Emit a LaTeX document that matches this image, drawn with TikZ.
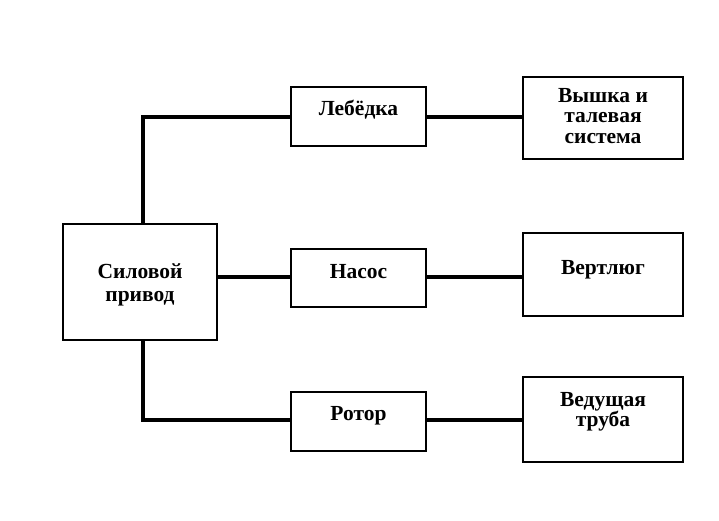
\documentclass[tikz,border=0pt]{standalone}
\usepackage{fontspec}
\setmainfont{Liberation Serif}
\usetikzlibrary{calc}
\begin{document}
\begin{tikzpicture}[x=1pt,y=1pt,
  box/.style={draw,line width=2.8pt,inner sep=0pt},
  lbl/.style={font=\fontsize{21.5}{20.5}\selectfont\bfseries,align=center,inner sep=0pt},
  conn/.style={line width=3.8pt}]
\useasboundingbox (0,0) rectangle (719,520);
% boxes (y = 520 - pixel y)
\node[box,minimum width=154pt,minimum height=116pt] (S) at (140,238) {};
\node[box,minimum width=135pt,minimum height=59pt] (L) at (358.5,403.5) {};
\node[box,minimum width=135pt,minimum height=58pt] (N) at (358.5,242) {};
\node[box,minimum width=135pt,minimum height=59pt] (R) at (358.5,98.5) {};
\node[box,minimum width=160pt,minimum height=82pt] (V) at (603,402) {};
\node[box,minimum width=160pt,minimum height=83pt] (T) at (603,245.5) {};
\node[box,minimum width=160pt,minimum height=85pt] (D) at (603,100.5) {};
% labels
\node[lbl] (St) at (140,235) {Силовой\\[2.5pt]привод};
\node[lbl] (Lt) at (358.5,410) {Лебёдка};
\node[lbl] (Nt) at (358.5,248) {Насос};
\node[lbl] (Rt) at (358.5,104) {Ротор};
\node[lbl] (Vt) at (603,404) {Вышка и\\талевая\\система};
\node[lbl] (Tt) at (603,250) {Вертлюг};
\node[lbl] (Dt) at (603,108) {Ведущая\\труба};
% connectors
\coordinate (ct) at (143,403);
\coordinate (cb) at (143,100);
\draw[conn] (S.north -| ct) -- (ct) -- (ct -| L.west);
\draw[conn] (S.south -| cb) -- (cb) -- (cb -| R.west);
\draw[conn] (S.east |- 0,243) -- (N.west |- 0,243);
\draw[conn] (L.east |- ct) -- (V.west |- ct);
\draw[conn] (N.east |- 0,243) -- (T.west |- 0,243);
\draw[conn] (R.east |- cb) -- (D.west |- cb);
\end{tikzpicture}
\end{document}
